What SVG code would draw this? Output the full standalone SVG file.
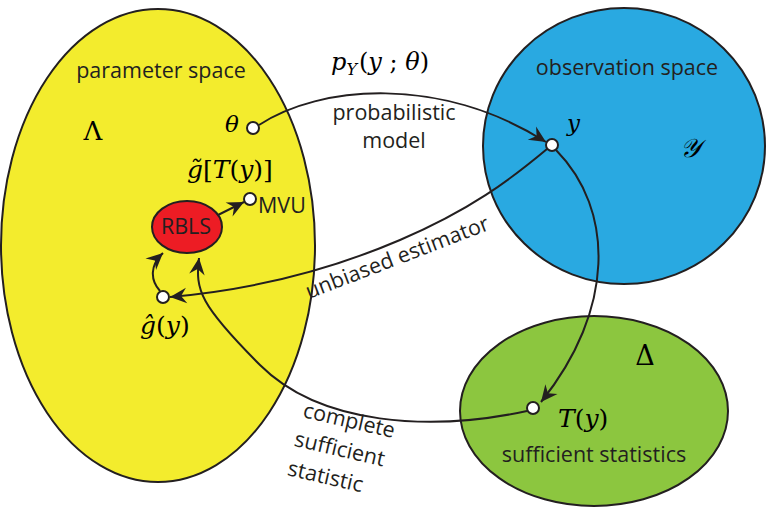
<svg xmlns="http://www.w3.org/2000/svg" width="766" height="508" viewBox="0 0 766 508">
<defs>
<style>
.region{stroke:#231f20;stroke-width:2}
.lbl{font-family:"Open Sans","Noto Sans",sans-serif;font-size:21.5px;fill:#231f20}
.math{font-family:"DejaVu Serif","Liberation Serif",serif;fill:#000}
.it{font-style:italic}
.pt{fill:#fff;stroke:#231f20;stroke-width:2}
.conn{fill:none;stroke:#231f20;stroke-width:2}
</style>
<marker id="ah" markerUnits="userSpaceOnUse" markerWidth="20" markerHeight="20" viewBox="-16 -8 18 16" refX="0" refY="0" orient="auto">
<path d="M0,0 L-15,-7 L-10,0 L-15,7 Z" fill="#231f20"/>
</marker>
</defs>

<g id="parameter-space">
<ellipse class="region" cx="158" cy="245.5" rx="157" ry="236.5" fill="#f3ec2d"/>
<text class="lbl" x="161" y="78" text-anchor="middle">parameter space</text>
<text class="math" x="93" y="140" font-size="26" text-anchor="middle">Λ</text>
</g>

<g id="observation-space">
<ellipse class="region" cx="624" cy="146" rx="141" ry="138" fill="#29a9e1"/>
<text class="lbl" x="627" y="75" text-anchor="middle">observation space</text>
<text class="math it" x="690" y="157" font-size="26" text-anchor="middle">𝒴</text>
</g>

<g id="sufficient-statistics">
<ellipse class="region" cx="594" cy="411" rx="134" ry="95" fill="#8cc63f"/>
<text class="lbl" x="594" y="462" text-anchor="middle">sufficient statistics</text>
<text class="math" x="645" y="365" font-size="27" text-anchor="middle">Δ</text>
</g>

<g id="connectors">
<path class="conn" d="M259,125 C320,85 440,75 546,142" marker-end="url(#ah)"/>
<path class="conn" d="M547,149 C510,180 470,210 400,240 S250,290 170,297" marker-end="url(#ah)"/>
<path class="conn" d="M556,150 C615,210 615,310 541,402" marker-end="url(#ah)"/>
<path class="conn" d="M527,411 C430,432 320,425 260,365 S195,290 199,258" marker-end="url(#ah)"/>
<path class="conn" d="M160,291 C150,280 150,265 163,253" marker-end="url(#ah)"/>
<path class="conn" d="M218,215 L244,202" marker-end="url(#ah)"/>
<text class="lbl" x="394" y="120" font-size="20.5" text-anchor="middle">probabilistic</text>
<text class="lbl" x="394" y="148" font-size="20.5" text-anchor="middle">model</text>
<text class="math" x="331" y="70" font-size="24"><tspan class="it">p</tspan><tspan class="it" font-size="16" dy="5">Y</tspan><tspan dy="-5" dx="2">(</tspan><tspan class="it">y</tspan> ; <tspan class="it">θ</tspan>)</text>
<text class="lbl" transform="translate(309,299) rotate(-21)">unbiased estimator</text>
<g transform="translate(302,417) rotate(13)">
<text class="lbl"><tspan x="0" y="0">complete</tspan><tspan x="-2" y="30">sufficient</tspan><tspan x="-2" y="60">statistic</tspan></text>
</g>
</g>

<g id="theta">
<circle class="pt" cx="253" cy="128" r="6"/>
<text class="math it" x="232" y="132" font-size="23" text-anchor="middle">θ</text>
</g>

<g id="y">
<circle class="pt" cx="552" cy="145" r="6"/>
<text class="math it" x="567" y="131" font-size="23">y</text>
</g>

<g id="T-y">
<circle class="pt" cx="533" cy="408" r="6"/>
<text class="math" x="558" y="427" font-size="25"><tspan class="it">T</tspan>(<tspan class="it">y</tspan>)</text>
</g>

<g id="g-hat">
<circle class="pt" cx="163" cy="297" r="6"/>
<text class="math" x="140" y="334" font-size="25"><tspan class="it">ĝ</tspan>(<tspan class="it">y</tspan>)</text>
</g>

<g id="RBLS">
<ellipse cx="187" cy="227" rx="35" ry="26" fill="#ed1c24" stroke="#231f20" stroke-width="2"/>
<text class="lbl" x="186" y="234" font-size="18" text-anchor="middle">RBLS</text>
</g>

<g id="MVU">
<circle class="pt" cx="250" cy="199" r="6"/>
<text class="lbl" x="258" y="213" font-size="15">MVU</text>
<text class="math" x="187" y="178" font-size="25"><tspan class="it">g̃</tspan>[<tspan class="it">T</tspan>(<tspan class="it">y</tspan>)]</text>
</g>
</svg>
